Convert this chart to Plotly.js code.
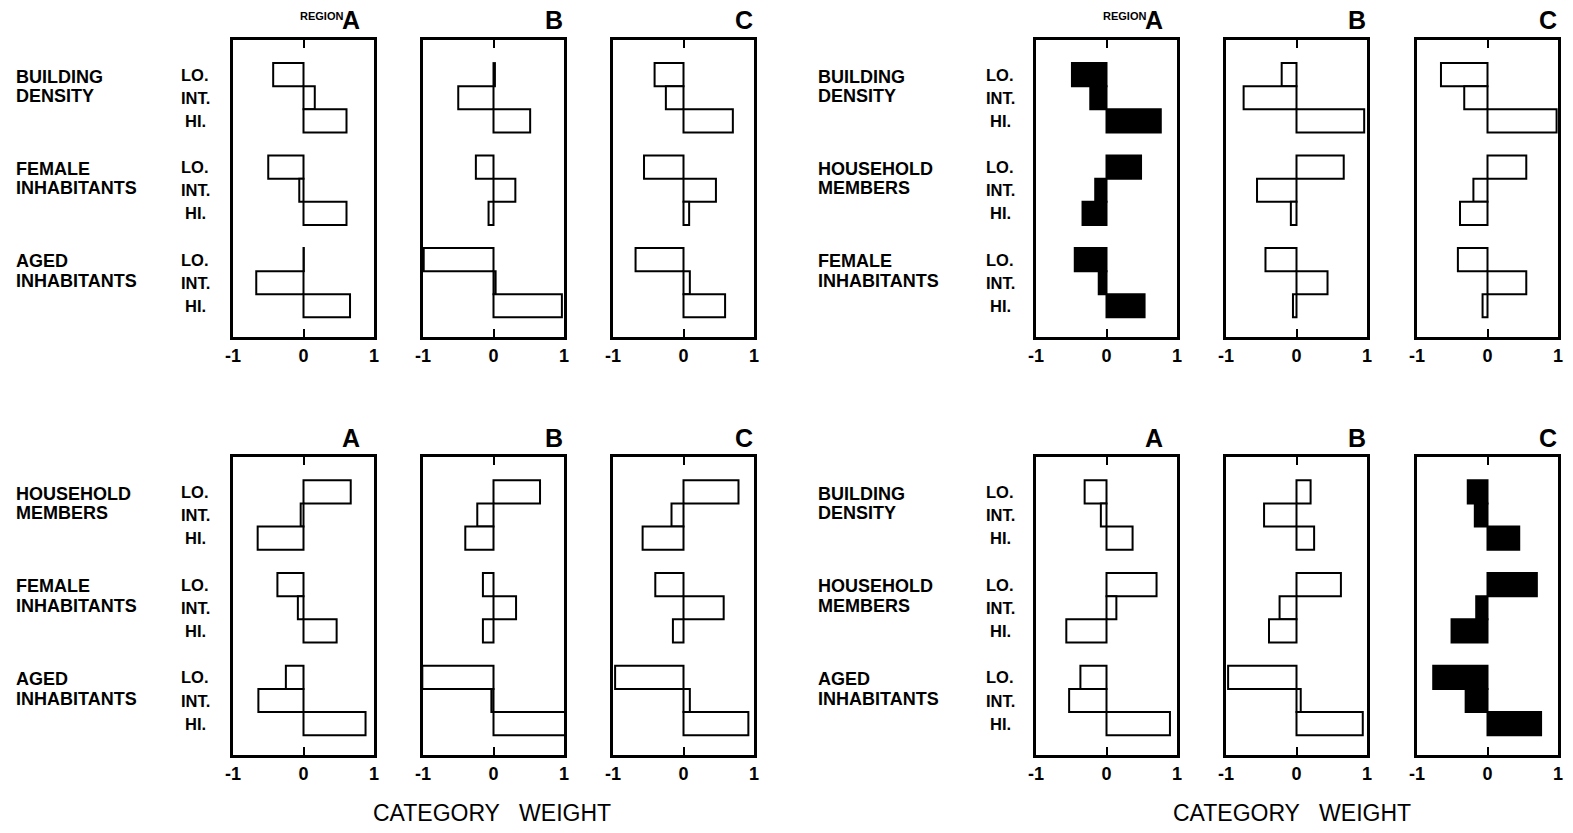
<!DOCTYPE html>
<html>
<head>
<meta charset="utf-8">
<script src="https://cdn.plot.ly/plotly-3.0.1.min.js"></script>
<style>html,body{margin:0;padding:0;background:#fff;}#chart{width:1573px;height:833px;}</style>
</head>
<body>
<div id="chart"></div>
<script>
// ---------- DATA ----------
const regions = ['A', 'B', 'C'];
const categories = ['LO.', 'INT.', 'HI.'];
const tickValues = [-1, 0, 1];
const tickLabels = ['-1', '0', '1'];
const axisTitle = 'CATEGORY   WEIGHT';

// variable labels of each of the four blocks (two lines each)
const varsTopLeft = [['BUILDING', 'DENSITY'], ['FEMALE', 'INHABITANTS'], ['AGED', 'INHABITANTS']];
const varsTopRight = [['BUILDING', 'DENSITY'], ['HOUSEHOLD', 'MEMBERS'], ['FEMALE', 'INHABITANTS']];
const varsBottomLeft = [['HOUSEHOLD', 'MEMBERS'], ['FEMALE', 'INHABITANTS'], ['AGED', 'INHABITANTS']];
const varsBottomRight = [['BUILDING', 'DENSITY'], ['HOUSEHOLD', 'MEMBERS'], ['AGED', 'INHABITANTS']];

// category weights: LO, INT, HI for variable 1, then variable 2, then variable 3
const topLeftA = [-0.43, 0.16, 0.61, -0.50, -0.06, 0.61, 0.005, -0.67, 0.66];
const topLeftB = [0.02, -0.50, 0.52, -0.25, 0.31, -0.07, -0.99, 0.03, 0.97];
const topLeftC = [-0.41, -0.25, 0.70, -0.56, 0.46, 0.08, -0.68, 0.09, 0.59];

const topRightA = [-0.49, -0.23, 0.77, 0.49, -0.16, -0.34, -0.45, -0.11, 0.54];
const topRightB = [-0.21, -0.75, 0.96, 0.67, -0.56, -0.08, -0.44, 0.44, -0.05];
const topRightC = [-0.66, -0.33, 0.98, 0.55, -0.20, -0.39, -0.42, 0.55, -0.07];

const bottomLeftA = [0.67, -0.04, -0.65, -0.37, -0.08, 0.47, -0.25, -0.64, 0.88];
const bottomLeftB = [0.66, -0.23, -0.40, -0.15, 0.32, -0.15, -1.01, -0.03, 1.10];
const bottomLeftC = [0.78, -0.17, -0.58, -0.40, 0.57, -0.15, -0.97, 0.09, 0.92];

const bottomRightA = [-0.31, -0.08, 0.37, 0.71, 0.14, -0.57, -0.37, -0.53, 0.90];
const bottomRightB = [0.20, -0.46, 0.25, 0.63, -0.24, -0.39, -0.97, 0.06, 0.94];
const bottomRightC = [-0.28, -0.18, 0.45, 0.70, -0.16, -0.51, -0.77, -0.31, 0.76];

// which panels are drawn solid
const filledTopRight = [true, false, false];
const filledBottomRight = [false, false, true];

// ---------- LAYOUT GEOMETRY ----------
const W = 1573, H = 833;
const FONT = 'Liberation Sans, Arial, sans-serif';
const panelW = 141;
const leftX = [233, 423, 613];
const rightX = [1036, 1226, 1417];
const rows = { top: [40, 337], bottom: [457, 755] };

const blocks = [
  { xs: leftX, row: 'top', vals: [topLeftA, topLeftB, topLeftC], vars: varsTopLeft, filled: [false, false, false], varX: 14, catX: 195, region: true },
  { xs: rightX, row: 'top', vals: [topRightA, topRightB, topRightC], vars: varsTopRight, filled: filledTopRight, varX: 816, catX: 1000, region: true },
  { xs: leftX, row: 'bottom', vals: [bottomLeftA, bottomLeftB, bottomLeftC], vars: varsBottomLeft, filled: [false, false, false], varX: 14, catX: 195, region: false },
  { xs: rightX, row: 'bottom', vals: [bottomRightA, bottomRightB, bottomRightC], vars: varsBottomRight, filled: filledBottomRight, varX: 816, catX: 1000, region: false }
];

// y position of each bar (group g, category c)
const barPos = [];
for (let g = 0; g < 3; g++) for (let c = 0; c < 3; c++) barPos.push(-(g * 4 + c));

const traces = [];
const layout = {
  width: W, height: H,
  margin: { l: 0, r: 0, t: 0, b: 0 },
  paper_bgcolor: '#fff', plot_bgcolor: '#fff',
  showlegend: false,
  font: { family: FONT, color: '#000' },
  annotations: []
};

let n = 0;
blocks.forEach((b) => {
  const [top, bot] = rows[b.row];
  const firstAxis = n + 1;
  b.xs.forEach((x0, i) => {
    n++;
    const xa = 'xaxis' + (n === 1 ? '' : n), ya = 'yaxis' + (n === 1 ? '' : n);
    const xr = 'x' + (n === 1 ? '' : n), yr = 'y' + (n === 1 ? '' : n);
    layout[xa] = {
      domain: [x0 / W, (x0 + panelW) / W],
      anchor: yr,
      range: [-1, 1], fixedrange: true,
      showgrid: false, zeroline: false,
      showline: true, linecolor: '#000', linewidth: 3, mirror: 'ticks',
      ticks: 'inside', ticklen: 8, tickwidth: 2, tickcolor: '#000',
      tickmode: 'array', tickvals: tickValues, ticktext: tickLabels.map(t => '<b>' + t + '</b>'),
      tickfont: { size: 18, family: FONT, color: '#000' }
    };
    layout[ya] = {
      domain: [1 - bot / H, 1 - top / H],
      anchor: xr,
      range: [-11.35, 1.5], fixedrange: true,
      showgrid: false, zeroline: false,
      showline: true, linecolor: '#000', linewidth: 3, mirror: true,
      ticks: '', showticklabels: false
    };
    traces.push({
      type: 'bar', orientation: 'h',
      x: b.vals[i], y: barPos, width: 1,
      xaxis: xr, yaxis: yr, cliponaxis: false,
      marker: { color: b.filled[i] ? '#000' : '#fff', line: { color: '#000', width: 2 } },
      hoverinfo: 'skip'
    });
    // region letter
    const letterRight = (i === 0) ? x0 + panelW - 12 : x0 + panelW + 1;
    const ly = b.row === 'top' ? 20 : 438;
    layout.annotations.push({
      xref: 'paper', yref: 'paper', x: letterRight / W, y: 1 - ly / H,
      xanchor: 'right', yanchor: 'middle', showarrow: false,
      text: '<b>' + regions[i] + '</b>', font: { size: 25, family: FONT, color: '#000' }
    });
    if (i === 0 && b.region) {
      layout.annotations.push({
        xref: 'paper', yref: 'paper', x: (letterRight - 17) / W, y: 1 - 16 / H,
        xanchor: 'right', yanchor: 'middle', showarrow: false,
        text: '<b>REGION</b>', font: { size: 11, family: FONT, color: '#000' }
      });
    }
  });
  // variable & category labels (aligned to the first panel's y scale)
  const yref = 'y' + (firstAxis === 1 ? '' : firstAxis);
  b.vars.forEach((lines, g) => {
    lines.forEach((line, li) => {
      layout.annotations.push({
        xref: 'paper', yref: yref, x: b.varX / W, y: -(g * 4 + 0.5) + (li === 0 ? 0.42 : -0.42),
        xanchor: 'left', yanchor: 'middle', align: 'left', showarrow: false,
        text: '<b>' + line + '</b>', font: { size: 18, family: FONT, color: '#000' }
      });
    });
    categories.forEach((c, k) => {
      layout.annotations.push({
        xref: 'paper', yref: yref, x: b.catX / W, y: -(g * 4 + k),
        xanchor: 'center', yanchor: 'middle', showarrow: false,
        text: '<b>' + c + '</b>', font: { size: 16.5, family: FONT, color: '#000' }
      });
    });
  });
});

// x axis titles
[492, 1292].forEach((cx) => {
  layout.annotations.push({
    xref: 'paper', yref: 'paper', x: cx / W, y: 1 - 813 / H,
    xanchor: 'center', yanchor: 'middle', showarrow: false,
    text: axisTitle.replace(/ /g, '&nbsp;'), font: { size: 23, family: FONT, color: '#000' }
  });
});

Plotly.newPlot('chart', traces, layout, { staticPlot: true, displayModeBar: false });
</script>
</body>
</html>
